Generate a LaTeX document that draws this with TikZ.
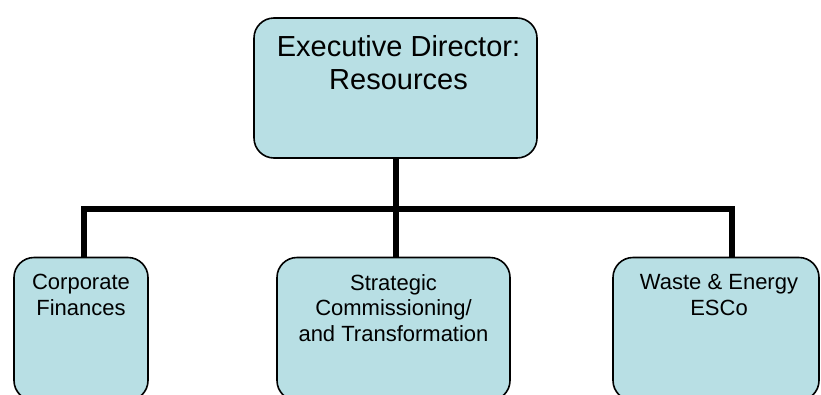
\documentclass[tikz,border=0pt]{standalone}
\usepackage{fontspec}
\setmainfont{Liberation Sans}
\usetikzlibrary{positioning}

\definecolor{postfill}{RGB}{184,223,228}

\tikzset{
  post/.style={draw=black, line width=1.6pt, fill=postfill, rounded corners=20pt, inner sep=0pt},
  wire/.style={line width=5.5pt},
  headtext/.style={font=\fontsize{29}{33}\selectfont, align=center, inner sep=0pt},
  subtext/.style={font=\fontsize{22}{25.5}\selectfont, align=center, inner sep=0pt}
}

\begin{document}
\begin{tikzpicture}[x=1pt, y=-1pt]
  \clip (0,0) rectangle (821,394);
  % boxes
  \node[post, minimum width=283pt, minimum height=140pt] (exec) at (395.5,88) {};
  \node[post, minimum width=134pt, minimum height=143pt] (corp) at (81,329) {};
  \node[post, minimum width=233pt, minimum height=143pt] (strat) at (393.5,329) {};
  \node[post, minimum width=206pt, minimum height=143pt] (waste) at (716,329) {};
  % texts
  \node[headtext, below=18pt of exec.north, xshift=3pt] (exec-txt) {Executive Director:\\Resources};
  \node[subtext, below=17.5pt of corp.north] (corp-txt) {Corporate\\Finances};
  \node[subtext, below=17.5pt of strat.north] (strat-txt) {Strategic\\Commissioning/\\and Transformation};
  \node[subtext, below=17.5pt of waste.north, xshift=3pt] (waste-txt) {Waste \& Energy\\ESCo};
  % lines
  \coordinate (barL) at (84,209);
  \coordinate (barR) at (732,209);
  \draw[wire] ([xshift=0.5pt]exec.south) -- ([xshift=0.5pt]exec.south |- strat.north);
  \draw[wire] (barL |- corp.north) -- (barL) -- (barR) -- (barR |- waste.north);
\end{tikzpicture}
\end{document}
